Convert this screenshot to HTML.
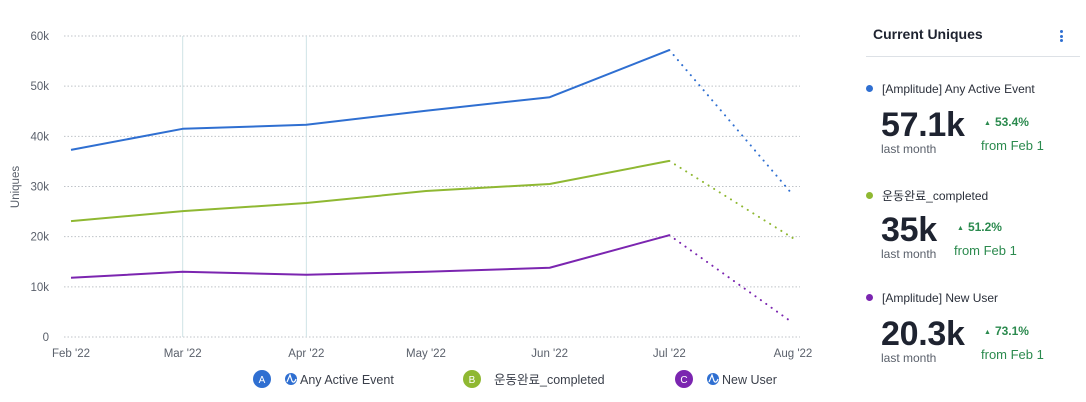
<!DOCTYPE html>
<html><head><meta charset="utf-8">
<style>
body{margin:0;width:1086px;height:402px;background:#fff;font-family:"Liberation Sans","Noto Sans CJK KR",sans-serif;overflow:hidden;position:relative}
.panel{position:absolute;left:866px;top:0;width:220px}
.ttl{position:absolute;left:7px;top:26px;font-size:14px;font-weight:bold;color:#1e2330}
.sep{position:absolute;left:0;top:56px;width:214px;height:1px;background:#dde1e6}
.dots{position:absolute;left:194px;top:30px;width:3px}
.dots i{display:block;width:3px;height:3px;border-radius:50%;background:#2f6fd1;margin-bottom:1.5px}
.item{position:absolute;left:0;width:220px}
.nm{position:absolute;left:0;top:0;font-size:12px;color:#2a2f3a;white-space:nowrap}
.nm b{display:inline-block;width:7px;height:7px;border-radius:50%;margin-right:9px;vertical-align:1px}
.big{position:absolute;left:15px;top:24px;font-size:34px;font-weight:bold;color:#1e2330;letter-spacing:-0.3px}
.lm{position:absolute;left:15px;top:60px;font-size:12px;color:#5a606b}
.pct{position:absolute;top:33px;font-size:12px;font-weight:bold;color:#2b8a4e}
.pct span{font-size:7px;vertical-align:1px;margin-right:4px}
.from{position:absolute;top:56px;font-size:13px;color:#2b8a4e}
</style></head><body>
<svg id="chart" width="860" height="402" style="position:absolute;left:0;top:0"></svg>
<div class="panel">
<div class="ttl">Current Uniques</div>
<div class="dots"><i></i><i></i><i></i></div>
<div class="sep"></div>
<div class="item" style="top:82px">
<div class="nm"><b style="background:#2f6fd1"></b>[Amplitude] Any Active Event</div>
<div class="big">57.1k</div><div class="lm">last month</div>
<div class="pct" style="left:118px"><span>▲</span>53.4%</div><div class="from" style="left:115px">from Feb 1</div></div>
<div class="item" style="top:187px">
<div class="nm"><b style="background:#8fb832"></b>운동완료_completed</div>
<div class="big">35k</div><div class="lm">last month</div>
<div class="pct" style="left:91px"><span>▲</span>51.2%</div><div class="from" style="left:88px">from Feb 1</div></div>
<div class="item" style="top:291px">
<div class="nm"><b style="background:#7b25b0"></b>[Amplitude] New User</div>
<div class="big">20.3k</div><div class="lm">last month</div>
<div class="pct" style="left:118px"><span>▲</span>73.1%</div><div class="from" style="left:115px">from Feb 1</div></div>
</div>
<script>
const months=["Feb '22","Mar '22","Apr '22","May '22","Jun '22","Jul '22","Aug '22"];
const monthDays=[0,28,59,89,120,150,181];
const yTicks=[0,10000,20000,30000,40000,50000,60000];
const yTickLabels=["0","10k","20k","30k","40k","50k","60k"];
const seriesA=[37300,41500,42300,45100,47800,57200,28300];
const seriesB=[23100,25100,26700,29100,30500,35100,19700];
const seriesC=[11800,13000,12400,13000,13800,20300,2800];
const annotations=[1,2];
const svg=document.getElementById('chart');const NS='http://www.w3.org/2000/svg';
function el(t,a){const e=document.createElementNS(NS,t);for(const k in a)e.setAttribute(k,a[k]);svg.appendChild(e);return e;}
const x=d=>71+d*(722/181);const y=v=>337-v*(301/60000);
yTicks.forEach((t,i)=>{
const g=el('line',{x1:64,x2:800,y1:y(t),y2:y(t),stroke:'#bfc3c8','stroke-dasharray':'1.5 2','stroke-width':1});


const tx=el('text',{x:49,y:y(t)+4,'text-anchor':'end','font-size':11.5,fill:'#5a606b'});tx.textContent=yTickLabels[i];


});
annotations.forEach(i=>{const l=el('line',{x1:x(monthDays[i]),x2:x(monthDays[i]),y1:36,y2:337,stroke:'#cfe3e6','stroke-width':1});

});
months.forEach((m,i)=>{const t=el('text',{x:x(monthDays[i]),y:357,'text-anchor':'middle','font-size':11.5,fill:'#5a606b'});t.textContent=m;

});
const yt=el('text',{x:0,y:0,transform:'translate(19,187) rotate(-90)','text-anchor':'middle','font-size':11.5,fill:'#5a606b'});yt.textContent='Uniques';


function draw(s,c,n){
const solid=s.slice(0,6).map((v,i)=>x(monthDays[i])+','+y(v)).join(' ');
const p=el('polyline',{points:solid,fill:'none',stroke:c,'stroke-width':2,'stroke-linejoin':'round'});


const d=el('line',{x1:x(monthDays[5]),y1:y(s[5]),x2:x(monthDays[6]),y2:y(s[6]),stroke:c,'stroke-width':2,'stroke-dasharray':'0.1 6.5','stroke-linecap':'round'});


}
draw(seriesC,'#7b25b0','new-user');draw(seriesB,'#8fb832','completed');draw(seriesA,'#2f6fd1','any-active-event');
const legend=[[262,'A','#2f6fd1',true,'Any Active Event'],[472,'B','#8fb832',false,'운동완료_completed'],[684,'C','#7b25b0',true,'New User']];
legend.forEach(([lx,L,c,ic,txt])=>{
const g=document.createElementNS(NS,'g');svg.appendChild(g);


const a=document.createElementNS(NS,'circle');a.setAttribute('cx',lx);a.setAttribute('cy',379);a.setAttribute('r',9);a.setAttribute('fill',c);g.appendChild(a);
const at=document.createElementNS(NS,'text');at.setAttribute('x',lx);at.setAttribute('y',383);at.setAttribute('text-anchor','middle');at.setAttribute('font-size',10);at.setAttribute('fill','#fff');at.textContent=L;g.appendChild(at);
let tx=lx+22;
if(ic){const b=document.createElementNS(NS,'circle');b.setAttribute('cx',lx+29);b.setAttribute('cy',379);b.setAttribute('r',6);b.setAttribute('fill','#2f6fd1');g.appendChild(b);
const w=document.createElementNS(NS,'path');w.setAttribute('d',`M${lx+25} 382 L${lx+28} 375 L${lx+30} 381 Q${lx+32} 384 ${lx+34} 379`);w.setAttribute('stroke','#fff');w.setAttribute('fill','none');w.setAttribute('stroke-width',1.2);g.appendChild(w);tx=lx+38;}
const t=document.createElementNS(NS,'text');t.setAttribute('x',tx);t.setAttribute('y',384);t.setAttribute('font-size',12.5);t.setAttribute('fill','#3a3f4a');t.textContent=txt;g.appendChild(t);
});
</script>
</body></html>
